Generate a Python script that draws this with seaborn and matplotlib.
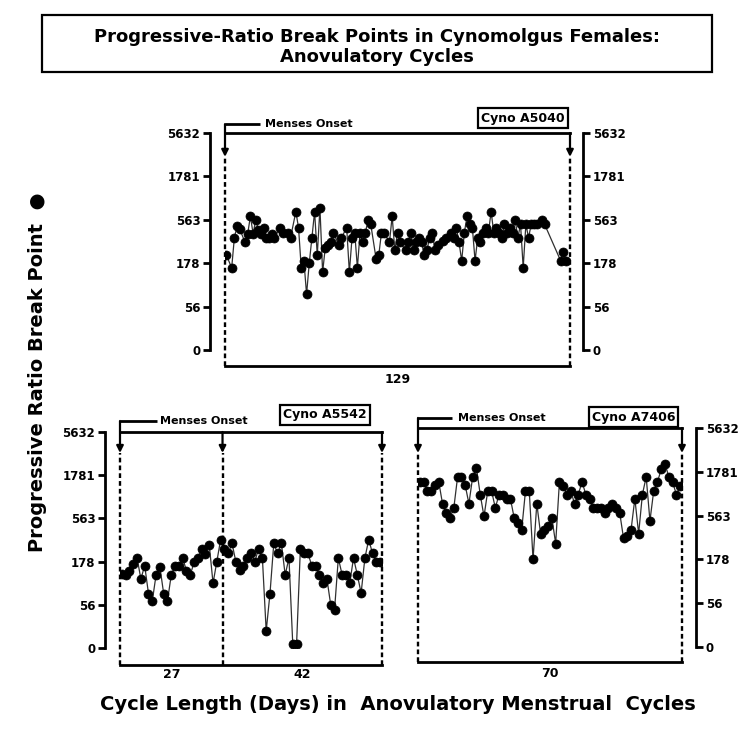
import numpy as np
import pandas as pd
import matplotlib
matplotlib.use("Agg")
import matplotlib.pyplot as plt
from matplotlib.patches import Rectangle
from matplotlib.ticker import NullLocator
import seaborn as sns

# ---------------- data ----------------
title_lines = ["Progressive-Ratio Break Points in Cynomolgus Females:", "Anovulatory Cycles"]
y_tick_values = [17.8, 56.3, 178.1, 563.2, 1781, 5632]
y_tick_labels = ["0", "56", "178", "563", "1781", "5632"]

# Cyno A5040 (one anovulatory cycle of 129 days)
a5040_days = [1, 3, 4, 5, 6, 8, 9, 10, 11, 12, 13, 14, 15, 16, 17, 18, 19, 21, 22, 24,
              25, 27, 28, 29, 30, 31, 32, 33, 34, 35, 36, 37, 38, 39, 40, 41, 43, 44, 46, 47,
              48, 49, 50, 51, 52, 53, 54, 55, 57, 58, 59, 60, 62, 63, 64, 65, 66, 68, 69, 70,
              71, 72, 73, 74, 75, 76, 77, 78, 79, 80, 82, 83, 85, 86, 87, 88, 89, 90, 91, 92,
              93, 94, 95, 96, 97, 98, 99, 100, 101, 102, 103, 104, 105, 106, 107, 108, 109, 110, 111, 112,
              113, 114, 115, 116, 117, 119, 120, 126, 127, 128]
a5040_vals = [220, 158, 348, 480, 440, 310, 390, 620, 390, 563, 430, 390, 455, 350, 350, 390, 350, 455, 400, 400,
              350, 700, 455, 158, 190, 78, 178, 350, 700, 220, 770, 140, 270, 290, 310, 400, 290, 350, 455, 140,
              350, 400, 158, 400, 310, 400, 563, 500, 200, 220, 400, 400, 310, 620, 250, 400, 310, 250, 310, 400,
              250, 310, 350, 310, 220, 250, 350, 400, 250, 290, 320, 350, 400, 350, 455, 310, 190, 400, 620, 500,
              455, 190, 350, 310, 400, 455, 400, 700, 400, 455, 400, 350, 500, 400, 450, 400, 563, 350, 500, 158,
              500, 350, 500, 500, 500, 563, 500, 190, 240, 190]
a5040_cycles = [129]

# Cyno A5542 (two cycles: 27 and 42 days)
a5542_vals = [129, 125, 140, 165, 196, 112, 160, 76, 62, 125, 155, 76, 62, 125, 160, 160, 196, 140, 125, 174,
              196, 250, 220, 280, 100, 178, 320,
              250, 222, 290, 178, 143, 160, 196, 222, 178, 250, 196, 28, 76, 290, 222, 290, 125, 196, 19.6,
              19.6, 250, 222, 222, 160, 160, 125, 100, 112, 56, 49, 196, 125, 125, 100, 196, 125, 77, 196,
              320, 222, 178, 178]
a5542_cycles = [27, 42]

# Cyno A7406 (one cycle of 70 days)
a7406_vals = [1370, 1370, 1080, 1080, 1260, 1370, 770, 600, 530, 690,
              1560, 1560, 1260, 770, 1560, 1960, 980, 550, 1080, 1080,
              690, 980, 980, 880, 880, 530, 460, 390, 1080, 1080,
              178, 770, 350, 390, 430, 530, 270, 1370, 1220, 980,
              1080, 770, 980, 1370, 980, 880, 690, 690, 690, 600,
              690, 770, 690, 600, 310, 330, 390, 880, 350, 980,
              1560, 490, 1080, 1370, 1900, 2200, 1560, 1370, 980, 1220]
a7406_cycles = [70]

panel_names = ["Cyno A5040", "Cyno A5542", "Cyno A7406"]
x_label = "Cycle Length (Days) in  Anovulatory Menstrual  Cycles"
y_label = "Progressive Ratio Break Point  \u25CF"
onset_text = "Menses Onset"

# ---------------- figure ----------------
sns.set_style("white")
plt.rcParams["font.family"] = ["DejaVu Sans"]
plt.rcParams["font.weight"] = "bold"
for key in ["text.color", "axes.labelcolor", "xtick.color", "ytick.color", "axes.edgecolor"]:
    plt.rcParams[key] = "black"

W, H = 752, 730
fig = plt.figure(figsize=(W / 100, H / 100), dpi=100)


def fr(x0, y0, x1, y1):
    return [x0 / W, 1 - y1 / H, (x1 - x0) / W, (y1 - y0) / H]


def panel(rect, days, vals, cycles, name, left_axis, right_axis, out_l, out_r, out_b,
          tip, rise, hline_end, text_x, name_x, name_y, label_y):
    ax = fig.add_axes(rect)
    df = pd.DataFrame({"day": days, "bp": vals})
    sns.lineplot(data=df, x="day", y="bp", ax=ax, color="#303030", linewidth=0.9,
                 marker="o", markersize=6.5, markerfacecolor="black",
                 markeredgecolor="black", markeredgewidth=0.5, sort=False,
                 estimator=None)
    total = sum(cycles)
    ax.set_yscale("log")
    ax.set_ylim(y_tick_values[0], y_tick_values[-1])
    ax.set_xlim(0.5, total + 0.5)
    ax.set_yticks(y_tick_values)
    ax.set_yticklabels(y_tick_labels)
    ax.yaxis.set_minor_locator(NullLocator())
    ax.set_xlabel("")
    ax.set_ylabel("")
    bounds = [0.5]
    for c in cycles:
        bounds.append(bounds[-1] + c)
    ax.set_xticks(bounds)
    ax.set_xticklabels([""] * len(bounds))
    ax.tick_params(axis="x", direction="inout", length=9, width=2, color="black")
    ax.tick_params(axis="y", direction="out", length=5, width=2, labelsize=8.5,
                   pad=2, left=left_axis, labelleft=left_axis,
                   right=right_axis, labelright=right_axis, color="black",
                   labelcolor="black")
    for s in ["left", "right", "bottom", "top"]:
        ax.spines[s].set_linewidth(2)
        ax.spines[s].set_color("black")
    ax.spines["left"].set_visible(left_axis)
    ax.spines["right"].set_visible(right_axis)
    ax.spines["left"].set_position(("outward", out_l * 0.72))
    ax.spines["right"].set_position(("outward", out_r * 0.72))
    ax.spines["bottom"].set_position(("outward", out_b * 0.72))
    ax.patch.set_alpha(0)

    trans = ax.get_xaxis_transform()
    bottom_frac = -out_b / (rect[3] * H)
    for i, b in enumerate(bounds):
        ax.plot([b, b], [bottom_frac, tip], transform=trans, color="black",
                lw=1.7, ls=(0, (2.0, 1.3)), clip_on=False, zorder=1)
        start = rise if i == 0 else 1.0
        ax.annotate("", xy=(b, tip), xycoords=trans, xytext=(b, start), textcoords=trans,
                    arrowprops=dict(arrowstyle="-|>", color="black", lw=1.6,
                                    mutation_scale=10, shrinkA=0, shrinkB=0),
                    annotation_clip=False)
    ax.plot([0, hline_end], [rise, rise], transform=ax.transAxes, color="black",
            lw=2, clip_on=False, solid_capstyle="butt")
    ax.text(text_x, rise, onset_text, transform=ax.transAxes, ha="left", va="center",
            fontsize=8, fontweight="bold", color="black")
    ax.text(name_x, name_y, name, transform=ax.transAxes, ha="right", va="center",
            fontsize=9, fontweight="bold", color="black",
            bbox=dict(boxstyle="square,pad=0.25", fc="white", ec="black", lw=1.6))
    for i, c in enumerate(cycles):
        mid = (bounds[i] + bounds[i + 1]) / 2
        ax.text(mid, label_y, str(c), transform=trans, ha="center", va="center",
                fontsize=9, fontweight="bold", color="black")
    return ax


panel(fr(225, 133, 570, 350), a5040_days, a5040_vals, a5040_cycles, panel_names[0],
      True, True, 15, 13, 16, tip=0.89, rise=1.041, hline_end=0.101, text_x=0.116,
      name_x=0.985, name_y=1.069, label_y=-0.134)

panel(fr(120, 432, 382, 648), list(range(1, len(a5542_vals) + 1)), a5542_vals, a5542_cycles,
      panel_names[1], True, False, 15, 0, 17, tip=0.903, rise=1.051, hline_end=0.141,
      text_x=0.153, name_x=0.943, name_y=1.079, label_y=-0.125)

panel(fr(418, 428, 682, 647), list(range(1, len(a7406_vals) + 1)), a7406_vals, a7406_cycles,
      panel_names[2], False, True, 0, 14, 15, tip=0.886, rise=1.046, hline_end=0.129,
      text_x=0.152, name_x=0.974, name_y=1.05, label_y=-0.119)

# title box
fig.patches.append(Rectangle((42 / W, 1 - 72 / H), (712 - 42) / W, (72 - 15) / H,
                             transform=fig.transFigure, fill=False, lw=1.6, ec="black"))
fig.text(377 / W, 1 - 37 / H, title_lines[0], ha="center", va="center",
         fontsize=13, fontweight="bold", color="black")
fig.text(377 / W, 1 - 57 / H, title_lines[1], ha="center", va="center",
         fontsize=13, fontweight="bold", color="black")

fig.text(38 / W, 1 - 372 / H, y_label, rotation=90, ha="center", va="center",
         fontsize=14, fontweight="bold", color="black")
fig.text(398 / W, 1 - 705 / H, x_label, ha="center", va="center",
         fontsize=14, fontweight="bold", color="black")

fig.savefig("out.png", dpi=100, facecolor="white")
